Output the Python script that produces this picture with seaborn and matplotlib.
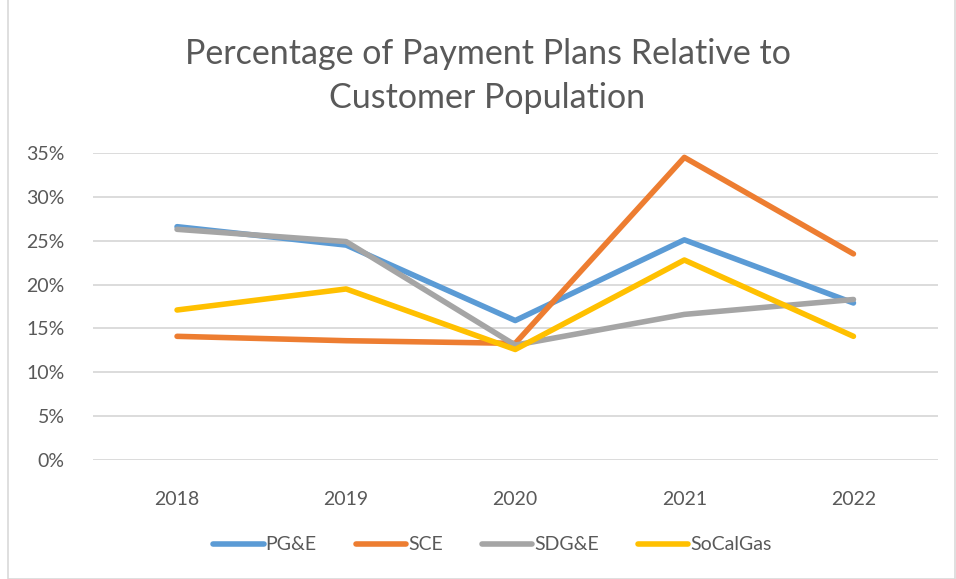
import matplotlib.pyplot as plt
import matplotlib.ticker as mtick
import pandas as pd
import seaborn as sns
from matplotlib.patches import Rectangle

years = ['2018', '2019', '2020', '2021', '2022']
pge = [0.266, 0.245, 0.159, 0.251, 0.179]
sce = [0.141, 0.136, 0.133, 0.345, 0.235]
sdge = [0.263, 0.249, 0.131, 0.166, 0.183]
socalgas = [0.171, 0.195, 0.126, 0.228, 0.141]

series = {'PG&E': pge, 'SCE': sce, 'SDG&E': sdge, 'SoCalGas': socalgas}
colors = ['#5B9BD5', '#ED7D31', '#A5A5A5', '#FFC000']

rows = []
for name, vals in series.items():
    for yr, v in zip(years, vals):
        rows.append({'Year': yr, 'Utility': name, 'Value': v})
df = pd.DataFrame(rows)

sns.set_style('white')
plt.rcParams['font.family'] = ['Lato', 'DejaVu Sans']

fig = plt.figure(figsize=(9.56, 5.79), dpi=100)
ax = fig.add_axes([92.5 / 956, 1 - 460 / 579, 845.5 / 956, 307 / 579])

sns.lineplot(data=df, x='Year', y='Value', hue='Utility', palette=colors,
             linewidth=4, ax=ax, sort=False, solid_capstyle='round')

ax.set_ylim(0, 0.35)
ax.set_xlim(-0.5, 4.5)
ax.yaxis.set_major_locator(mtick.MultipleLocator(0.05))
ax.yaxis.set_major_formatter(mtick.PercentFormatter(1.0, decimals=0))
ax.grid(axis='y', color='#D9D9D9', linewidth=1.3)
ax.set_axisbelow(True)
for s in ax.spines.values():
    s.set_visible(False)
ax.tick_params(axis='both', length=0, labelsize=14, labelcolor='#595959')
ax.tick_params(axis='y', pad=20)
ax.tick_params(axis='x', pad=22)
ax.set_xlabel('')
ax.set_ylabel('')

fig.text(0.51, 1 - 76 / 579, 'Percentage of Payment Plans Relative to\nCustomer Population',
         ha='center', va='center', fontsize=24.5, color='#595959', linespacing=1.45)

handles, labels = ax.get_legend_handles_labels()
ax.legend(handles, labels, loc='center', bbox_to_anchor=(0.515, 1 - 545 / 579),
          bbox_transform=fig.transFigure, ncol=4, frameon=False, fontsize=14,
          handlelength=2.6, handletextpad=0.1, columnspacing=2.0,
          labelcolor='#595959')

fig.patches.append(Rectangle((8 / 956, 0.0), 1 - 9 / 956, 1.2, transform=fig.transFigure,
                             fill=False, edgecolor='#D9D9D9', linewidth=1.2))

fig.savefig('out.png', dpi=100)
